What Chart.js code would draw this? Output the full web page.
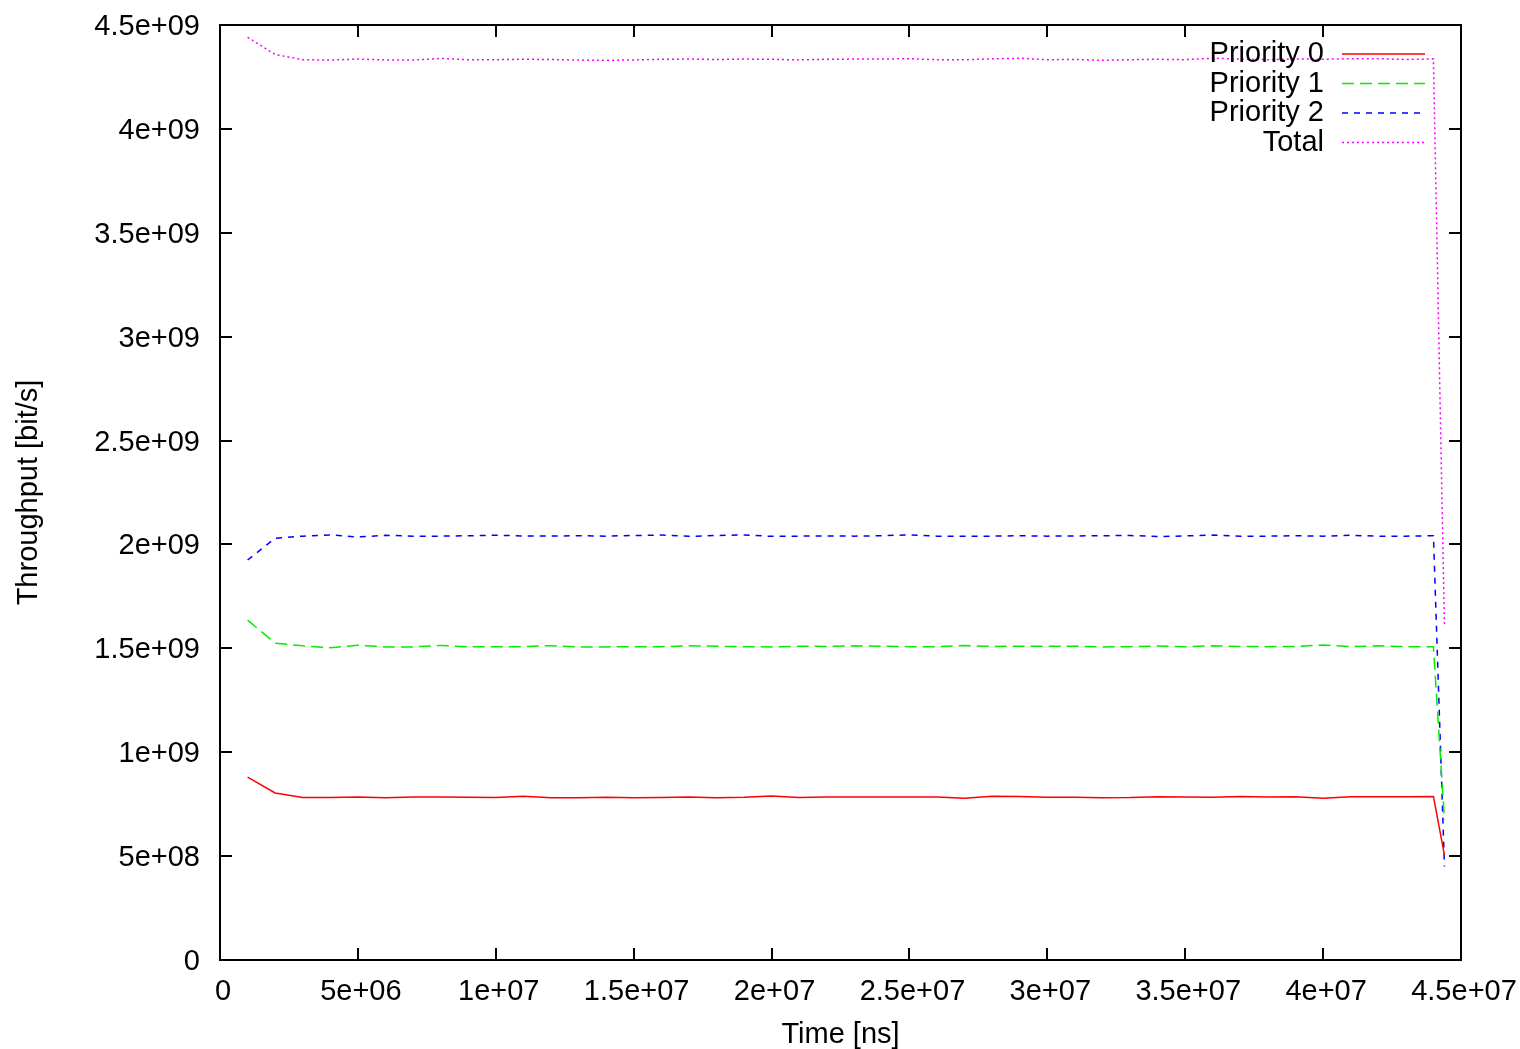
<!DOCTYPE html>
<html>
<head>
<meta charset="utf-8">
<script src="https://cdn.jsdelivr.net/npm/chart.js@4/dist/chart.umd.min.js"></script>
<style>
  html, body { margin: 0; padding: 0; background: #fff; }
  canvas { display: block; }
</style>
</head>
<body>
<canvas id="chart" width="1520" height="1049"></canvas>
<script>
// time [ns] of each sample: every 1e6 ns, last sample at ~4.44e7
const timeNs = [
  1e6, 2e6, 3e6, 4e6, 5e6, 6e6, 7e6, 8e6, 9e6, 10e6,
  11e6, 12e6, 13e6, 14e6, 15e6, 16e6, 17e6, 18e6, 19e6, 20e6,
  21e6, 22e6, 23e6, 24e6, 25e6, 26e6, 27e6, 28e6, 29e6, 30e6,
  31e6, 32e6, 33e6, 34e6, 35e6, 36e6, 37e6, 38e6, 39e6, 40e6,
  41e6, 42e6, 43e6, 44e6, 44.4e6
];

// throughput in bit/s
const priority0 = [
  0.880e9, 0.804e9, 0.782e9, 0.782e9, 0.784e9, 0.781e9, 0.784e9, 0.784e9, 0.783e9, 0.782e9,
  0.788e9, 0.781e9, 0.781e9, 0.783e9, 0.781e9, 0.782e9, 0.785e9, 0.781e9, 0.783e9, 0.789e9,
  0.782e9, 0.785e9, 0.784e9, 0.784e9, 0.784e9, 0.785e9, 0.779e9, 0.788e9, 0.787e9, 0.783e9,
  0.783e9, 0.781e9, 0.782e9, 0.786e9, 0.784e9, 0.783e9, 0.787e9, 0.785e9, 0.786e9, 0.779e9,
  0.786e9, 0.786e9, 0.786e9, 0.787e9, 0.505e9
];
const priority1 = [
  1.636e9, 1.525e9, 1.512e9, 1.503e9, 1.515e9, 1.507e9, 1.507e9, 1.514e9, 1.507e9, 1.508e9,
  1.508e9, 1.513e9, 1.507e9, 1.507e9, 1.508e9, 1.508e9, 1.512e9, 1.510e9, 1.508e9, 1.507e9,
  1.510e9, 1.509e9, 1.512e9, 1.510e9, 1.508e9, 1.508e9, 1.514e9, 1.509e9, 1.510e9, 1.510e9,
  1.510e9, 1.507e9, 1.508e9, 1.511e9, 1.508e9, 1.512e9, 1.509e9, 1.508e9, 1.509e9, 1.516e9,
  1.508e9, 1.512e9, 1.508e9, 1.508e9, 0.674e9
];
const priority2 = [
  1.925e9, 2.030e9, 2.040e9, 2.046e9, 2.036e9, 2.044e9, 2.040e9, 2.040e9, 2.042e9, 2.044e9,
  2.041e9, 2.040e9, 2.042e9, 2.040e9, 2.043e9, 2.045e9, 2.039e9, 2.043e9, 2.046e9, 2.039e9,
  2.040e9, 2.041e9, 2.040e9, 2.042e9, 2.046e9, 2.040e9, 2.040e9, 2.040e9, 2.042e9, 2.040e9,
  2.041e9, 2.042e9, 2.043e9, 2.038e9, 2.041e9, 2.045e9, 2.040e9, 2.040e9, 2.042e9, 2.040e9,
  2.044e9, 2.040e9, 2.040e9, 2.042e9, 0.450e9
];
const total = [
  4.441e9, 4.358e9, 4.333e9, 4.331e9, 4.336e9, 4.332e9, 4.331e9, 4.339e9, 4.333e9, 4.333e9,
  4.335e9, 4.334e9, 4.331e9, 4.330e9, 4.332e9, 4.335e9, 4.336e9, 4.334e9, 4.336e9, 4.335e9,
  4.332e9, 4.335e9, 4.336e9, 4.336e9, 4.338e9, 4.333e9, 4.333e9, 4.337e9, 4.340e9, 4.333e9,
  4.334e9, 4.330e9, 4.333e9, 4.335e9, 4.333e9, 4.340e9, 4.336e9, 4.333e9, 4.337e9, 4.335e9,
  4.338e9, 4.338e9, 4.334e9, 4.337e9, 1.607e9
];

const seriesNames = ['Priority 0', 'Priority 1', 'Priority 2', 'Total'];

function pts(values) {
  return values.map((v, i) => ({ x: timeNs[i], y: v }));
}

// gnuplot style numbers: 5e+06, 1.5e+09
function sci(v) {
  if (v === 0) return '0';
  const parts = Number(v.toPrecision(6)).toExponential().split('e');
  const exp = parts[1];
  return parts[0] + 'e' + exp[0] + exp.slice(1).padStart(2, '0');
}

const FONT = '"Liberation Sans", Arial, sans-serif';
const FSIZE = 29;

// box with inward ticks on all four sides, and the key in the top right
const framePlugin = {
  id: 'frame',
  afterDatasetsDraw(chart) {
    const ctx = chart.ctx;
    const a = chart.chartArea;
    const xs = chart.scales.x, ys = chart.scales.y;
    const len = 12;
    ctx.save();
    ctx.strokeStyle = '#000';
    ctx.lineWidth = 2;
    ctx.beginPath();
    xs.ticks.forEach(t => {
      const px = Math.round(xs.getPixelForValue(t.value));
      ctx.moveTo(px, a.bottom); ctx.lineTo(px, a.bottom - len);
      ctx.moveTo(px, a.top); ctx.lineTo(px, a.top + len);
    });
    ys.ticks.forEach(t => {
      const py = Math.round(ys.getPixelForValue(t.value));
      ctx.moveTo(a.left, py); ctx.lineTo(a.left + len, py);
      ctx.moveTo(a.right, py); ctx.lineTo(a.right - len, py);
    });
    ctx.stroke();
    ctx.strokeRect(a.left, a.top, a.right - a.left, a.bottom - a.top);

    // key
    ctx.font = FSIZE + 'px ' + FONT;
    ctx.textAlign = 'right';
    ctx.textBaseline = 'middle';
    chart.data.datasets.forEach((ds, i) => {
      const y = 54 + i * 29.5;
      ctx.fillStyle = '#000';
      ctx.fillText(ds.label, 1324, y);
      ctx.strokeStyle = ds.borderColor;
      ctx.lineWidth = ds.borderWidth;
      ctx.setLineDash(ds.borderDash || []);
      ctx.beginPath();
      ctx.moveTo(1342, y);
      ctx.lineTo(1425, y);
      ctx.stroke();
    });
    ctx.setLineDash([]);
    ctx.restore();
  }
};

const lineDefaults = { fill: false, pointRadius: 0, tension: 0, borderWidth: 1.5 };

new Chart(document.getElementById('chart').getContext('2d'), {
  type: 'line',
  data: {
    datasets: [
      Object.assign({ label: seriesNames[0], data: pts(priority0), borderColor: '#ff0000', borderDash: [] }, lineDefaults),
      Object.assign({ label: seriesNames[1], data: pts(priority1), borderColor: '#00ee00', borderDash: [12, 6] }, lineDefaults),
      Object.assign({ label: seriesNames[2], data: pts(priority2), borderColor: '#0000ff', borderDash: [6, 6] }, lineDefaults),
      Object.assign({ label: seriesNames[3], data: pts(total), borderColor: '#ff00ff', borderDash: [2, 3] }, lineDefaults)
    ]
  },
  options: {
    responsive: false,
    animation: false,
    layout: { padding: { top: 25, right: 59, left: 0, bottom: 0 } },
    plugins: { legend: { display: false }, tooltip: { enabled: false } },
    scales: {
      x: {
        type: 'linear',
        min: 0,
        max: 4.5e7,
        afterFit(s) { s.height = 89; s.paddingLeft = 0; s.paddingRight = 0; },
        grid: { display: false, drawTicks: false },
        border: { display: false },
        ticks: {
          stepSize: 5e6,
          padding: 15,
          labelOffset: 3,
          color: '#000',
          maxRotation: 0,
          autoSkip: false,
          font: { family: FONT, size: FSIZE },
          callback: v => sci(v)
        },
        title: {
          display: true,
          text: 'Time [ns]',
          color: '#000',
          font: { family: FONT, size: FSIZE },
          padding: { top: 8, bottom: -3 }
        }
      },
      y: {
        min: 0,
        max: 4.5e9,
        afterFit(s) { s.width = 220; s.paddingTop = 0; s.paddingBottom = 0; },
        grid: { display: false, drawTicks: false },
        border: { display: false },
        ticks: {
          stepSize: 5e8,
          padding: 20,
          labelOffset: 2,
          color: '#000',
          autoSkip: false,
          font: { family: FONT, size: FSIZE },
          callback: v => sci(v)
        },
        title: {
          display: true,
          text: 'Throughput [bit/s]',
          color: '#000',
          font: { family: FONT, size: FSIZE },
          padding: { top: 12, bottom: 0 }
        }
      }
    }
  },
  plugins: [framePlugin]
});
</script>
</body>
</html>
